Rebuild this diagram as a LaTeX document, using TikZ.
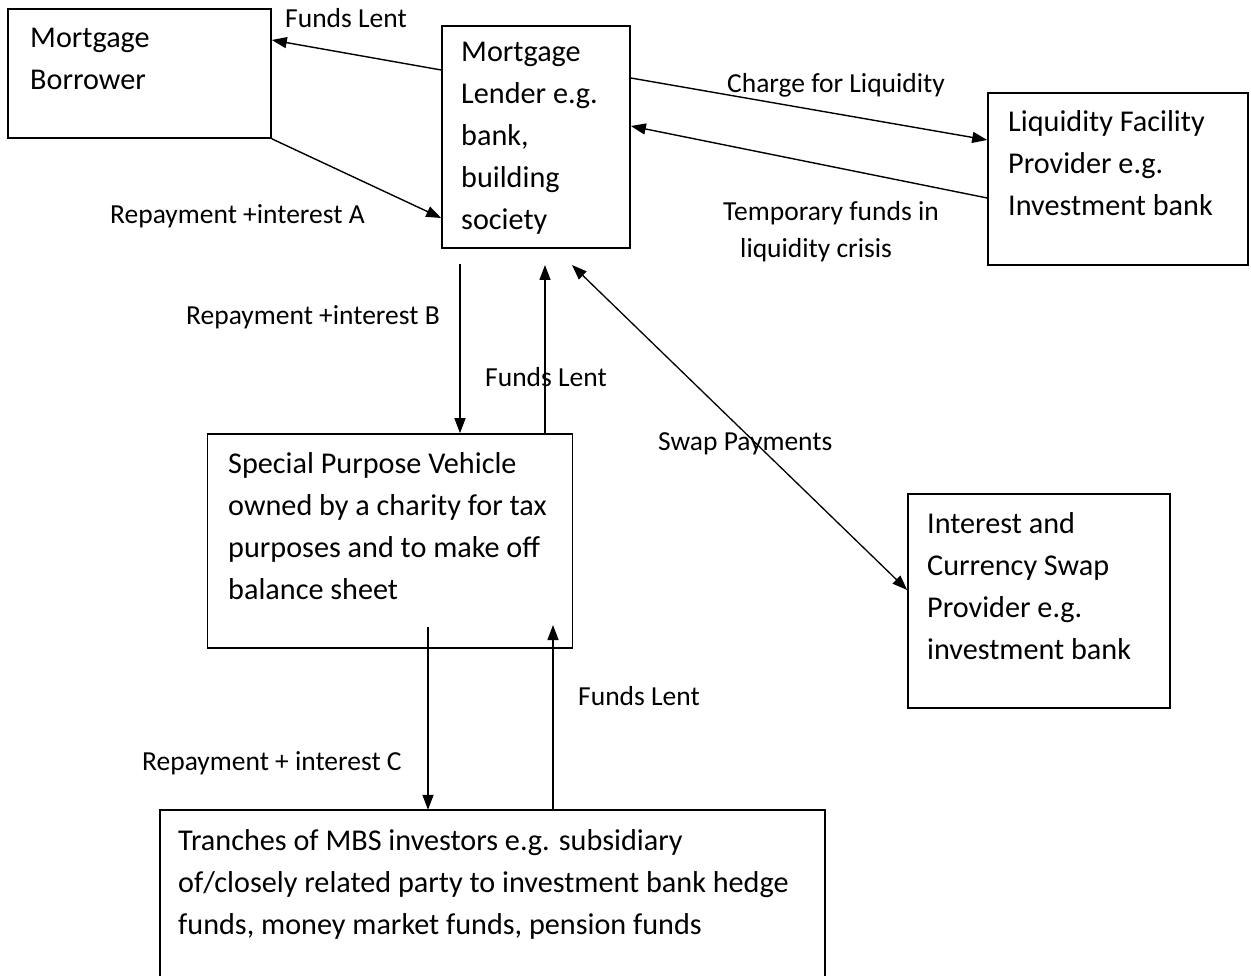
\documentclass[tikz,border=0pt]{standalone}
\usepackage{fontspec}
\setmainfont{Carlito}
\usetikzlibrary{arrows.meta}
\begin{document}
\begin{tikzpicture}[x=1pt,y=-1pt,
  box/.style={draw, line width=1.6pt, rectangle, inner sep=0pt},
  txt/.style={inner sep=0pt, align=left, font=\fontsize{27.5}{42}\selectfont},
  btxt/.style={inner sep=0pt, align=left, font=\fontsize{30.2}{42}\selectfont},
  arr/.style={line width=1.4pt, -{Triangle[length=15pt,width=11pt]}},
  darr/.style={line width=1.3pt, {Triangle[length=15pt,width=11pt]}-{Triangle[length=15pt,width=11pt]}}]
\useasboundingbox (0,0) rectangle (1251,976);
% boxes
\node[box, minimum width=263, minimum height=129] (borrower) at (139.5,73.5) {};
\node[box, minimum width=188, minimum height=222] (lender) at (536,137) {};
\node[box, minimum width=260, minimum height=172] (liq) at (1118,179) {};
\node[box, minimum width=365, minimum height=214] (spv) at (390,541) {};
\node[box, minimum width=262, minimum height=214] (swap) at (1039,601) {};
\node[inner sep=0pt, minimum width=665, minimum height=170] (tr) at (492.5,895) {};
\draw[line width=1.6pt] (tr.south west) |- (tr.north east) -- (tr.south east);
% box texts (anchored at the baseline of the last line)
\node[btxt, anchor=base west] (borrowerT) at (30,90) {Mortgage\\Borrower};
\node[btxt, anchor=base west] (lenderT) at (461,230) {Mortgage\\Lender e.g.\\bank,\\building\\society};
\node[btxt, anchor=base west] (liqT) at (1008,216) {Liquidity Facility\\Provider e.g.\\Investment bank};
\node[btxt, anchor=base west] (spvT) at (228,599) {Special Purpose Vehicle\\owned by a charity for tax\\purposes and to make off\\balance sheet};
\node[btxt, anchor=base west] (swapT) at (927,659) {Interest and\\Currency Swap\\Provider e.g.\\investment bank};
\node[btxt, anchor=base west] (trT) at (178,934) {Tranches of MBS investors e.g. subsidiary\\of/closely related party to investment bank hedge\\funds, money market funds, pension funds};
% free ends
\coordinate (bStart) at (460,264);
\coordinate (fEnd) at (545,265);
\coordinate (sEnd) at (572,265);
\coordinate (cStart) at (428,627);
\coordinate (gEnd) at (553,625);
% connectors
\draw[arr] (lender.west |- 0,70) -- (borrower.east |- 0,40);
\draw[arr] (borrower.south east) -- (lender.west |- 0,218);
\draw[arr] (lender.east |- 0,78) -- (liq.west |- 0,140);
\draw[arr] (liq.west |- 0,198) -- (lender.east |- 0,126);
\draw[arr] (bStart) -- (spv.north -| bStart);
\draw[arr] (spv.north -| fEnd) -- (fEnd);
\draw[darr] (sEnd) -- (swap.west |- 0,590);
\draw[arr] (cStart) -- (tr.north -| cStart);
\draw[arr] (tr.north -| gEnd) -- (gEnd);
% labels
\node[txt, anchor=base west] (l1) at (285,28) {Funds Lent};
\node[txt, anchor=base west] (l2) at (110,224) {Repayment +interest A};
\node[txt, anchor=base west] (l3) at (727,93) {Charge for Liquidity};
\node[txt, anchor=base west] (l4) at (723,221) {Temporary funds in};
\node[txt, anchor=base west] (l5) at (740,258) {liquidity crisis};
\node[txt, anchor=base west] (l6) at (186,325) {Repayment +interest B};
\node[txt, anchor=base west] (l7) at (485,387) {Funds Lent};
\node[txt, anchor=base west] (l8) at (658,450) {Swap Payments};
\node[txt, anchor=base west] (l9) at (578,705) {Funds Lent};
\node[txt, anchor=base west] (l10) at (142,770) {Repayment + interest C};
\end{tikzpicture}
\end{document}
